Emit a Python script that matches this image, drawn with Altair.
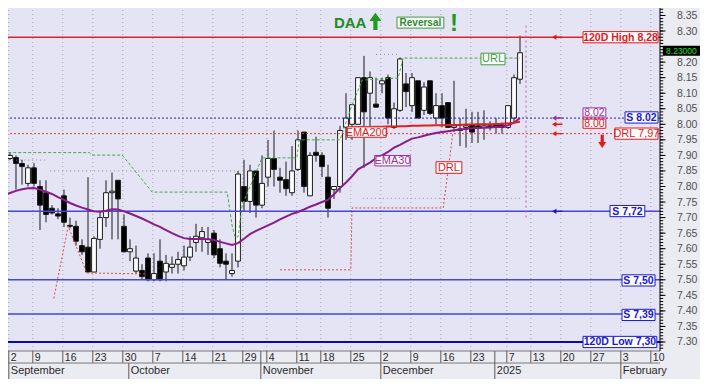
import altair as alt
import pandas as pd

# ---------------- data ----------------
opens = [7.81, 7.89, 7.893, 7.874, 7.81, 7.86, 7.80, 7.78, 7.73, 7.712,
         7.77, 7.675, 7.672, 7.61, 7.605, 7.525, 7.63, 7.70, 7.78, 7.82,
         7.672, 7.59, 7.528, 7.53, 7.57, 7.50, 7.56, 7.525, 7.54, 7.55,
         7.545, 7.573, 7.62, 7.635, 7.62, 7.65, 7.60, 7.56, 7.52, 7.56,
         7.80, 7.752, 7.85, 7.74, 7.83, 7.89, 7.83, 7.822, 7.78, 7.855,
         7.975, 7.77, 7.91, 7.90, 7.83, 7.79, 7.80, 7.99, 8.00, 8.00,
         8.15, 8.10, 8.065, 8.13, 8.15, 7.99, 8.045, 8.13, 8.06, 8.14,
         8.045, 8.14, 8.02, 8.06, 8.07, 7.99, 7.98, 7.99, 7.998, 7.995,
         7.99, 7.995, 7.998, 7.998, 7.99, 8.02, 8.145]
highs = [7.90, 7.91, 7.90, 7.886, 7.87, 7.875, 7.82, 7.82, 7.74, 7.73,
         7.79, 7.70, 7.69, 7.63, 7.83, 7.64, 7.72, 7.82, 7.845, 7.82,
         7.71, 7.63, 7.61, 7.55, 7.585, 7.585, 7.63, 7.58, 7.575, 7.59,
         7.61, 7.64, 7.68, 7.67, 7.67, 7.66, 7.63, 7.585, 7.585, 7.85,
         7.886, 7.87, 7.85, 7.90, 7.95, 7.98, 7.86, 7.88, 7.93, 7.98,
         7.975, 7.91, 7.96, 7.91, 7.87, 7.80, 7.995, 8.10, 8.063, 8.15,
         8.22, 8.17, 8.15, 8.15, 8.16, 8.07, 8.215, 8.165, 8.165, 8.14,
         8.135, 8.14, 8.10, 8.10, 8.07, 8.14, 8.02, 8.05, 8.04, 8.04,
         8.045, 8.01, 8.02, 8.005, 8.06, 8.16, 8.285]
lows = [7.80, 7.885, 7.79, 7.806, 7.80, 7.80, 7.66, 7.685, 7.71, 7.695,
        7.67, 7.665, 7.61, 7.58, 7.525, 7.525, 7.60, 7.67, 7.63, 7.63,
        7.588, 7.56, 7.52, 7.50, 7.495, 7.495, 7.495, 7.495, 7.52, 7.52,
        7.53, 7.56, 7.59, 7.59, 7.58, 7.57, 7.54, 7.50, 7.51, 7.54,
        7.72, 7.715, 7.70, 7.73, 7.80, 7.80, 7.78, 7.77, 7.77, 7.85,
        7.78, 7.77, 7.88, 7.83, 7.70, 7.76, 7.78, 7.95, 7.95, 8.00,
        7.86, 7.98, 8.055, 8.10, 8.00, 7.985, 8.04, 8.055, 8.04, 8.02,
        8.03, 8.03, 8.00, 7.99, 7.99, 7.975, 7.93, 7.925, 7.94, 7.94,
        7.95, 7.98, 7.97, 7.97, 7.985, 8.005, 8.13]
closes = [7.89, 7.90, 7.874, 7.864, 7.86, 7.81, 7.74, 7.71, 7.715, 7.705,
          7.685, 7.672, 7.624, 7.59, 7.525, 7.633, 7.70, 7.78, 7.785, 7.76,
          7.59, 7.60, 7.57, 7.51, 7.50, 7.52, 7.50, 7.553, 7.55, 7.565,
          7.573, 7.605, 7.64, 7.655, 7.63, 7.58, 7.553, 7.55, 7.53, 7.84,
          7.752, 7.85, 7.74, 7.81, 7.89, 7.855, 7.82, 7.793, 7.85, 7.95,
          7.80, 7.90, 7.90, 7.864, 7.73, 7.80, 7.98, 8.02, 8.063, 8.15,
          8.04, 8.15, 8.055, 8.14, 8.02, 8.05, 8.21, 8.105, 8.15, 8.02,
          8.12, 8.035, 8.06, 8.02, 7.99, 7.995, 7.985, 7.995, 7.975, 7.99,
          7.995, 7.99, 7.99, 7.99, 8.06, 8.15, 8.23]

ema30 = [7.773, 7.779, 7.786, 7.791, 7.794, 7.795, 7.790, 7.783, 7.776, 7.766,
         7.757, 7.747, 7.739, 7.732, 7.726, 7.720, 7.719, 7.722, 7.727, 7.726,
         7.720, 7.713, 7.705, 7.697, 7.688, 7.678, 7.670, 7.660, 7.650, 7.641,
         7.634, 7.631, 7.631, 7.631, 7.630, 7.628, 7.622, 7.617, 7.612, 7.618,
         7.632, 7.647, 7.657, 7.666, 7.675, 7.684, 7.694, 7.703, 7.712, 7.718,
         7.726, 7.735, 7.742, 7.750, 7.757, 7.775, 7.795, 7.813, 7.833, 7.855,
         7.866, 7.877, 7.891, 7.900, 7.911, 7.925, 7.934, 7.944, 7.954, 7.958,
         7.963, 7.968, 7.972, 7.975, 7.978, 7.981, 7.983, 7.985, 7.987, 7.988,
         7.989, 7.990, 7.991, 7.992, 7.997, 8.005, 8.020]
ema200_start = 57
ema200 = [7.990, 7.990, 7.991, 7.991, 7.991, 7.992, 7.992, 7.993, 7.993, 7.994,
          7.994, 7.995, 7.995, 7.996, 7.996, 7.997, 7.997, 7.998, 7.998, 7.998,
          7.999, 7.999, 8.000, 8.000, 8.000, 8.001, 8.002, 8.003, 8.005, 8.008]

# indicator paths (trading-day position, price)
url_x = [0.7, 14.3, 14.7, 19.7, 24.7, 37.2, 38.0, 38.5, 39.0, 39.7, 43.0, 48.8,
         49.2, 56.0, 58.0, 59.7, 65.7, 66.5, 86.0]
url_y = [7.909, 7.909, 7.901, 7.901, 7.782, 7.782, 7.676, 7.638, 7.638, 7.74, 7.892,
         7.892, 7.95, 7.95, 8.062, 8.142, 8.149, 8.213, 8.213]
drl_part = [0, 0, 0, 0, 1, 1, 1, 1, 1]
drl_x = [8.3, 10.7, 13.8, 23.8, 46.0, 57.8, 58.0, 73.2, 74.8]
drl_y = [7.44, 7.672, 7.522, 7.519, 7.532, 7.532, 7.731, 7.731, 7.97]
aux_part = [0, 0, 1, 1, 2, 2, 3, 3]
aux_x = [0.7, 7.0, 7.7, 39.5, 59.8, 86.0, 62.0, 66.0]
aux_y = [7.885, 7.885, 7.85, 7.85, 7.762, 7.762, 8.225, 8.225]

high_120d = 8.28
low_120d = 7.30
support_solid = [7.72, 7.50, 7.39]
support_dotted = 8.02
drl_level = 7.97
last_close = 8.23
signal_day = 87

tick_days = [0, 5, 10, 15, 20, 25, 30, 35, 40, 44, 49, 53, 58, 63, 68, 73, 78,
             84, 88, 93, 98, 103, 108]
tick_labels = ["2", "9", "16", "23", "30", "7", "14", "21", "29", "4", "11", "18",
               "25", "2", "9", "16", "23", "7", "13", "20", "27", "3", "10"]
month_days = [0, 21, 43, 63, 82, 103]
month_labels = ["September", "October", "November", "December", "2025", "February"]
month_full_sep = [False, False, True, False, True, False]
price_labels = ["7.30", "7.35", "7.40", "7.45", "7.50", "7.55", "7.60", "7.65", "7.70",
                "7.75", "7.80", "7.85", "7.90", "7.95", "8.00", "8.05", "8.10", "8.15",
                "8.20", "8.25", "8.30", "8.35"]

# label boxes: text, x0, x1, y, colour, bold, half-height(px)
lab_text = ["120D High 8,28", "8.02", "8.00", "S 8.02", "DRL 7,97", "S 7,72",
            "S 7,50", "S 7,39", "120D Low 7,30", "EMA200", "EMA30", "DRL", "URL"]
lab_x0 = [96.5, 96.5, 96.5, 103.5, 101.8, 101.0, 103.0, 103.0, 96.5, 57.2, 61.8, 72.0, 79.5]
lab_x1 = [109.0, 100.3, 100.3, 109.0, 109.0, 106.8, 108.5, 108.5, 108.8, 63.7, 67.7, 76.3, 83.5]
lab_y = [8.28, 8.038, 8.002, 8.022, 7.97, 7.721, 7.498, 7.387, 7.30, 7.975, 7.883, 7.861, 8.21]
lab_h = [5.6, 4.6, 4.6, 5.6, 5.6, 5.6, 5.6, 5.6, 5.6, 5.2, 5.2, 5.8, 5.8]
RED, BLUE, PURP, GRN = "#E01B1B", "#1A1ACC", "#9C2F9C", "#3C9C3C"
lab_col = [RED, PURP, RED, BLUE, RED, BLUE, BLUE, BLUE, BLUE, RED, PURP, RED, GRN]
lab_bold = [True, False, False, True, False, True, True, True, True, False, False, False, False]
lab_size = [10.5, 10.5, 10.5, 10.5, 11, 10.5, 10.5, 10.5, 10.5, 11, 11, 11, 11]

arrow_y = [8.28, 8.02, 8.00, 7.97, 7.72]
arrow_col = [RED, PURP, RED, RED, BLUE]
arrow_x = 92.2

# ---------------- chart ----------------
XD = [0.667, 109.33]
YD = [7.271, 8.374]
xs = alt.Scale(domain=XD, nice=False, zero=False)
ys = alt.Scale(domain=YD, nice=False, zero=False)
PX = 1 / 310.5  # price per pixel
DX = 1 / 6.0    # trading days per pixel
FONT = "Liberation Sans"


def X(f, **kw):
    return alt.X(f, type="quantitative", scale=xs, axis=None, **kw)


def Y(f, **kw):
    return alt.Y(f, type="quantitative", scale=ys, axis=None, **kw)


shift = -0.2
row_top = YD[0] - 12 * PX
row_bot = YD[0] - 28 * PX

# ---- bottom (time) axis drawn from the tick tables ----
tdf = pd.DataFrame({"x": [max(d + shift, 0.8) for d in tick_days], "t": tick_labels})
tdf["xt"] = tdf["x"] + 2 * DX
tdf["a"] = YD[0]
tdf["b"] = row_top
tdf["top"] = YD[1]
tdf["ym"] = YD[0] - 6.5 * PX
grid = alt.Chart(tdf).mark_rule(color="#A4A4B4", strokeWidth=1, strokeDash=[1, 3]).encode(
    x=X("x"), y=Y("a"), y2="top")
day_sep = alt.Chart(tdf).mark_rule(color="#5A5A5A", strokeWidth=1).encode(
    x=X("x"), y=Y("a"), y2="b")
day_txt = alt.Chart(tdf).mark_text(font=FONT, fontSize=10.5, color="#2A2A2A", align="left",
                                   baseline="middle").encode(x=X("xt"), y=Y("ym"), text="t:N")
x_domain = alt.Chart(pd.DataFrame({"v": [YD[0]]})).mark_rule(
    color="#7A7A7A", strokeWidth=1).encode(y=Y("v"))

mdf = pd.DataFrame({"x": [max(d + shift, 0.8) for d in month_days], "t": month_labels})
mdf["xt"] = mdf["x"] + 2 * DX
mdf["a"] = [YD[0] if f else row_top for f in month_full_sep]
mdf["b"] = row_bot
mdf["ym"] = YD[0] - 20 * PX
row_line = alt.Chart(pd.DataFrame({"v": [row_top]})).mark_rule(
    color="#7A7A7A", strokeWidth=1).encode(y=Y("v"))
msep = alt.Chart(mdf).mark_rule(color="#5A5A5A", strokeWidth=1).encode(
    x=X("x"), y=Y("a"), y2="b")
mtxt = alt.Chart(mdf).mark_text(font=FONT, fontSize=11, color="#2A2A2A", align="left",
                                baseline="middle").encode(x=X("xt"), y=Y("ym"), text="t:N")

# ---- right (price) axis ----
pdf = pd.DataFrame({"v": [float(s) for s in price_labels], "t": price_labels})
pdf["a"] = XD[1]
pdf["b"] = XD[1] + 5.5 * DX
pdf["xt"] = XD[1] + 17 * DX
pdf["ya"] = pdf["v"] - 0.5 * PX
pdf["yb"] = pdf["v"] + 0.5 * PX
major_ticks = alt.Chart(pdf).mark_rect(color="#000000").encode(
    x=X("a"), x2="b", y=Y("ya"), y2="yb")
# the label hidden under the last-price tag is not drawn
shown = pdf[(pdf["v"] - last_close).abs() > 0.03]
price_txt = alt.Chart(shown).mark_text(font=FONT, fontSize=10.5, color="#505050", align="left",
                                       baseline="middle", dy=0.5).encode(
    x=X("xt"), y=Y("v"), text="t:N")
minor_v = [round(7.28 + 0.01 * k, 2) for k in range(110)]
mndf = pd.DataFrame({"v": minor_v})
mndf["a"] = XD[1]
mndf["b"] = XD[1] + 3.2 * DX
mndf["ya"] = mndf["v"] - 0.5 * PX
mndf["yb"] = mndf["v"] + 0.5 * PX
minor_ticks = alt.Chart(mndf).mark_rect(color="#000000").encode(
    x=X("a"), x2="b", y=Y("ya"), y2="yb")
y_domain = alt.Chart(pd.DataFrame({"x": [XD[1]], "a": [YD[0]], "b": [YD[1]]})).mark_rule(
    color="#000000", strokeWidth=1).encode(x=X("x"), y=Y("a"), y2="b")

# ---- candles ----
cd = pd.DataFrame({"i": list(range(len(opens))), "open": opens, "high": highs,
                   "low": lows, "close": closes})
wick = alt.Chart(cd).mark_rule(color="#1A1A1A", strokeWidth=1).encode(
    x=X("i"), y=Y("low"), y2="high")
body = alt.Chart(cd).transform_calculate(
    x0="datum.i - 0.4", x1="datum.i + 0.4").mark_rect(
    stroke="#1A1A1A", strokeWidth=1).encode(
    x=X("x0"), x2="x1", y=Y("open"), y2="close",
    fill=alt.condition("datum.close >= datum.open", alt.value("#FFFFFF"), alt.value("#000000")))

ema30_df = pd.DataFrame({"i": list(range(len(ema30))), "v": ema30})
ema30_line = alt.Chart(ema30_df).mark_line(color="#8A1C8A", strokeWidth=2).encode(
    x=X("i"), y=Y("v"))
ema200_df = pd.DataFrame({"i": list(range(ema200_start, ema200_start + len(ema200))), "v": ema200})
ema200_line = alt.Chart(ema200_df).mark_line(color="#E02020", strokeWidth=2).encode(
    x=X("i"), y=Y("v"))

url_df = pd.DataFrame({"x": url_x, "y": url_y, "o": list(range(len(url_x)))})
url_line = alt.Chart(url_df).mark_line(color="#46A846", strokeWidth=1, strokeDash=[3, 2]).encode(
    x=X("x"), y=Y("y"), order="o:Q")
drl_df = pd.DataFrame({"x": drl_x, "y": drl_y, "p": drl_part, "o": list(range(len(drl_x)))})
drl_line = alt.Chart(drl_df).mark_line(color="#E04848", strokeWidth=1, strokeDash=[2, 2]).encode(
    x=X("x"), y=Y("y"), detail="p:N", order="o:Q")
aux_df = pd.DataFrame({"x": aux_x, "y": aux_y, "p": aux_part, "o": list(range(len(aux_x)))})
aux_line = alt.Chart(aux_df).mark_line(color="#8C8C98", strokeWidth=1, strokeDash=[1, 3]).encode(
    x=X("x"), y=Y("y"), detail="p:N", order="o:Q")

hi_rule = alt.Chart(pd.DataFrame({"v": [high_120d]})).mark_rule(
    color="#E02424", strokeWidth=1.5).encode(y=Y("v"))
sdot_rule = alt.Chart(pd.DataFrame({"v": [support_dotted]})).mark_rule(
    color="#2020C0", strokeWidth=1, strokeDash=[2, 2]).encode(y=Y("v"))
drl_rule = alt.Chart(pd.DataFrame({"v": [drl_level]})).mark_rule(
    color="#E04040", strokeWidth=1, strokeDash=[2, 2]).encode(y=Y("v"))
sup_rule = alt.Chart(pd.DataFrame({"v": support_solid})).mark_rule(
    color="#4646D8", strokeWidth=1.5).encode(y=Y("v"))
lo_rule = alt.Chart(pd.DataFrame({"v": [low_120d]})).mark_rule(
    color="#0A0AA8", strokeWidth=2).encode(y=Y("v"))
sig_rule = alt.Chart(pd.DataFrame({"x": [signal_day], "a": [7.70], "b": [8.32]})).mark_rule(
    color="#B060B0", strokeWidth=1, strokeDash=[2, 3]).encode(x=X("x"), y=Y("a"), y2="b")

lab = pd.DataFrame({"t": lab_text, "x0": lab_x0, "x1": lab_x1, "y": lab_y, "h": lab_h,
                    "c": lab_col, "b": lab_bold, "s": lab_size})
lab["xc"] = (lab["x0"] + lab["x1"]) / 2
lab["ya"] = lab["y"] - lab["h"] * PX
lab["yb"] = lab["y"] + lab["h"] * PX
boxes = alt.Chart(lab).mark_rect(fill="#FCFCFF", strokeWidth=1).encode(
    x=X("x0"), x2="x1", y=Y("ya"), y2="yb", stroke=alt.Color("c:N", scale=None))
txt_norm = alt.Chart(lab[~lab["b"]]).mark_text(font=FONT, baseline="middle", dy=0.5).encode(
    x=X("xc"), y=Y("y"), text="t:N", color=alt.Color("c:N", scale=None),
    size=alt.Size("s:Q", scale=None))
txt_bold = alt.Chart(lab[lab["b"]]).mark_text(font=FONT, fontWeight="bold",
                                              baseline="middle", dy=0.5).encode(
    x=X("xc"), y=Y("y"), text="t:N", color=alt.Color("c:N", scale=None),
    size=alt.Size("s:Q", scale=None))

LEFT_ARROW = "M1,-0.14L-0.15,-0.14L-0.15,-0.5L-1,0L-0.15,0.5L-0.15,0.14L1,0.14Z"
UP_ARROW = "M-0.24,1L0.24,1L0.24,-0.05L0.7,-0.05L0,-1L-0.7,-0.05L-0.24,-0.05Z"
DOWN_ARROW = "M-0.24,-1L0.24,-1L0.24,0.1L0.6,0.1L0,1L-0.6,0.1L-0.24,0.1Z"
arr = alt.Chart(pd.DataFrame({"x": [arrow_x] * len(arrow_y), "y": arrow_y, "c": arrow_col})).mark_point(
    shape=LEFT_ARROW, filled=True, size=110, opacity=1, strokeWidth=0).encode(
    x=X("x"), y=Y("y"), color=alt.Color("c:N", scale=None))
down_arr = alt.Chart(pd.DataFrame({"x": [99.7], "y": [drl_level - 0.025]})).mark_point(
    shape=DOWN_ARROW, filled=True, size=180, color=RED, opacity=1, strokeWidth=0).encode(
    x=X("x"), y=Y("y"))

# top signal annotation
sig_y = 8.327
daa = alt.Chart(pd.DataFrame({"x": [57.7], "y": [sig_y], "t": ["DAA"]})).mark_text(
    font=FONT, fontSize=15, fontWeight="bold", color="#1E8C1E", baseline="middle").encode(
    x=X("x"), y=Y("y"), text="t:N")
up_arr = alt.Chart(pd.DataFrame({"x": [61.9], "y": [sig_y + 0.004]})).mark_point(
    shape=UP_ARROW, filled=True, size=300, color="#1E9A1E", opacity=1, strokeWidth=0).encode(
    x=X("x"), y=Y("y"))
rev_df = pd.DataFrame({"x0": [65.5], "x1": [73.3], "ya": [sig_y - 5.5 * PX], "yb": [sig_y + 5.5 * PX],
                       "xc": [69.4], "y": [sig_y], "t": ["Reversal"]})
rev_box = alt.Chart(rev_df).mark_rect(fill="#FCFCFF", stroke="#3C9C3C", strokeWidth=1).encode(
    x=X("x0"), x2="x1", y=Y("ya"), y2="yb")
rev_txt = alt.Chart(rev_df).mark_text(font=FONT, fontSize=10, fontWeight="bold", color="#2E8B2E",
                                      baseline="middle", dy=0.5).encode(
    x=X("xc"), y=Y("y"), text="t:N")
bang = alt.Chart(pd.DataFrame({"x": [75.0], "y": [sig_y], "t": ["!"]})).mark_text(
    font=FONT, fontSize=24, fontWeight="bold", color="#1E9A1E", baseline="middle", dy=1).encode(
    x=X("x"), y=Y("y"), text="t:N")

# last price tag on the axis
tag_y = last_close + 2.0 * PX
lp = pd.DataFrame({"x0": [109.8], "x1": [116.0], "ya": [tag_y - 5.0 * PX],
                   "yb": [tag_y + 5.0 * PX], "xc": [112.9], "y": [tag_y],
                   "t": [f"{last_close:.5f}"]})
lp_box = alt.Chart(lp).mark_rect(fill="#000000").encode(x=X("x0"), x2="x1", y=Y("ya"), y2="yb")
lp_txt = alt.Chart(lp).mark_text(font=FONT, fontSize=8.5, color="#20E020", baseline="middle",
                                 dy=0.3).encode(x=X("xc"), y=Y("y"), text="t:N")

chart = alt.layer(
    grid, wick, body, aux_line, url_line, drl_line, sdot_rule, drl_rule, hi_rule, sup_rule,
    lo_rule, ema30_line, ema200_line, sig_rule, boxes, txt_norm, txt_bold, arr, down_arr,
    daa, up_arr, rev_box, rev_txt, bang,
    x_domain, day_sep, day_txt, row_line, msep, mtxt,
    y_domain, minor_ticks, major_ticks, price_txt, lp_box, lp_txt
).properties(
    width=652, height=343,
    autosize=alt.AutoSizeParams(type="none"),
    padding={"left": 0, "top": 0, "right": 40, "bottom": 28},
    background="#EBEBF2",
).configure_view(fill="#E4E4F4", stroke=None)

chart.save("out.html", embed_options={"renderer": "svg", "actions": False})
